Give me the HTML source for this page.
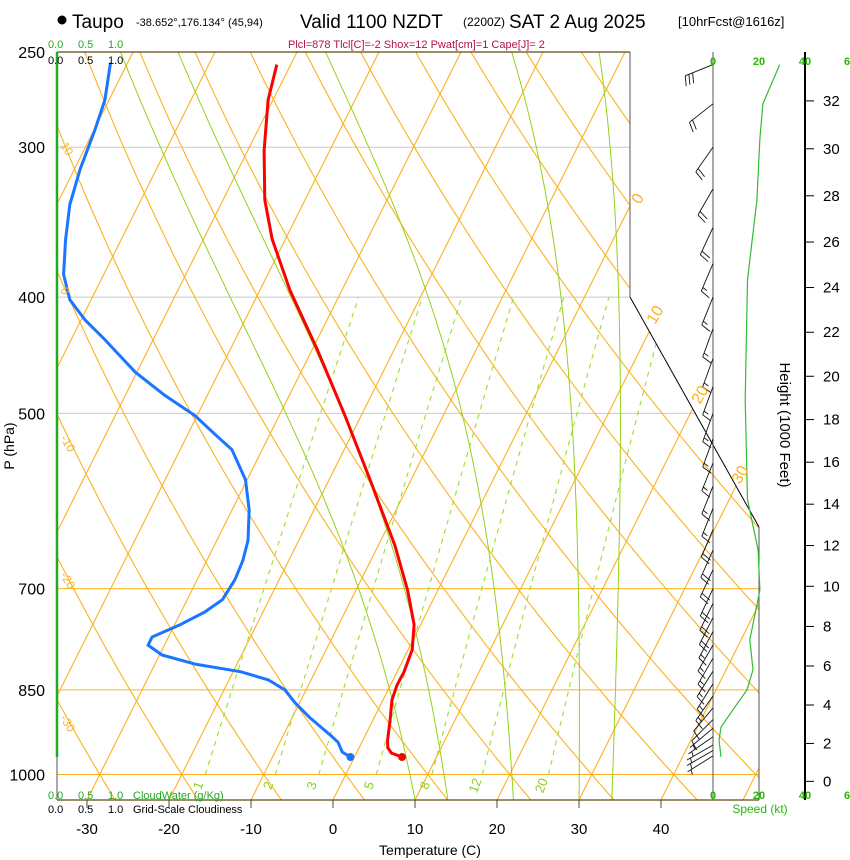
<!DOCTYPE html>
<html><head><meta charset="utf-8"><style>
html,body{margin:0;padding:0;background:#fff}
svg{display:block;font-family:"Liberation Sans",sans-serif}
</style></head><body>
<svg id="chart" width="850" height="860" viewBox="0 0 850 860" xmlns="http://www.w3.org/2000/svg">
<defs><clipPath id="plotclip"><polygon points="57,52 630,52 630,297 759,527 759,800 57,800"/></clipPath></defs>
<g id="grid" clip-path="url(#plotclip)"></g>
<g id="frame">
<line x1="57" y1="52" x2="630" y2="52" stroke="#5a4a10" stroke-width="1.2"/>
<line x1="630" y1="52" x2="630" y2="297" stroke="#555" stroke-width="1"/>
<line x1="630" y1="297" x2="759" y2="527" stroke="#000" stroke-width="1"/>
<line x1="759" y1="527" x2="759" y2="800" stroke="#555" stroke-width="1"/>
<line x1="57" y1="800" x2="759" y2="800" stroke="#5a4a10" stroke-width="1.2"/>
<line x1="57" y1="52" x2="57" y2="800" stroke="#555" stroke-width="1"/>
<line x1="713" y1="52" x2="713" y2="800" stroke="#555" stroke-width="1"/>
<line x1="805" y1="52" x2="805" y2="800" stroke="#000" stroke-width="2"/>
</g>
<line x1="57" y1="52" x2="57" y2="757" stroke="#22aa22" stroke-width="2.5"/>
<g id="series"></g>
<g id="labels" font-size="14" fill="#000"></g>
<g>
<circle cx="62" cy="20" r="4.5" fill="#000"/>
<text x="72" y="28" font-size="19">Taupo</text>
<text x="136" y="26" font-size="11">-38.652°,176.134° (45,94)</text>
<text x="300" y="28" font-size="19">Valid 1100 NZDT</text>
<text x="463" y="26" font-size="12">(2200Z)</text>
<text x="509" y="28" font-size="19">SAT 2 Aug 2025</text>
<text x="678" y="26" font-size="13">[10hrFcst@1616z]</text>
<text x="288" y="48" font-size="11" fill="#b0104c">Plcl=878 Tlcl[C]=-2 Shox=12 Pwat[cm]=1 Cape[J]= 2</text>
</g>
<script>
const tempP=[256,274,302,332,358,395,443,502,568,644,702,750,787,821,842,867,901,936,950,960,967];
const tempT=[-51.7,-50.6,-48.0,-44.9,-41.6,-36.3,-29.3,-22.0,-15.0,-8.0,-3.7,-0.8,0.5,0.85,0.8,1.1,2.1,3.0,3.5,4.3,5.8];
const dewP=[255,274,290,313,335,358,383,402,418,434,462,483,502,521,536,568,602,638,663,688,715,732,750,768,780,795,809,821,834,850,872,897,927,940,958,967];
const dewT=[-72.1,-70.5,-69.9,-69.3,-68.4,-66.8,-64.9,-62.6,-59.5,-55.9,-50.2,-45.2,-40.3,-36.6,-33.7,-30.2,-27.9,-26.2,-25.6,-25.4,-25.7,-27.1,-29.3,-32.0,-32.0,-29.7,-25.1,-19.1,-15.2,-12.6,-10.5,-7.8,-4.3,-2.9,-1.8,-0.5];
const spdP=[256,276,295,332,387,487,590,650,702,772,818,850,883,913,936,967];
const spdKt=[29,21.7,20.4,19.1,15,14,15,19.6,20.4,16,17.4,14.8,8.7,3.5,2.6,3.5];
const barbP=[256,276,300,325,350,375,400,425,450,475,500,525,550,575,600,625,650,675,700,720,740,760,780,800,820,840,860,880,900,915,930,945,955,965];
const barbDir=[248,232,215,210,205,203,202,200,200,200,200,200,202,202,202,203,204,205,205,206,207,208,210,210,212,212,215,220,225,230,235,240,240,238];
const barbKt=[29,22,20,19,18,15,14,14,14,14,14,15,15,16,17,18,20,20,20,19,18,16,16,17,17,16,14,11,8,6,4,3,3,4];
const pLevels=[250,300,400,500,700,850,1000];
const tTicks=[-30,-20,-10,0,10,20,30,40];
const hTicks=[0,2,4,6,8,10,12,14,16,18,20,22,24,26,28,30,32];
const mixW=[1,2,3,5,8,12,20];
const thetaC=[-40,-30,-20,-10,0,10,20,30,40,50,60,70,80,90,100,110,120,130,140,150,160];
const moistT=[10,14,22,30,34];

const NS='http://www.w3.org/2000/svg';
function Y(p){return 774.5-521*Math.log(1000/p);}
function X(T,p){return 333+8.2*T+0.5*(800-Y(p));}
function mk(tag,attrs,parent){const e=document.createElementNS(NS,tag);for(const k in attrs)e.setAttribute(k,attrs[k]);parent.appendChild(e);return e;}
function pts(arr){return arr.map(a=>a[0].toFixed(1)+','+a[1].toFixed(1)).join(' ');}
const grid=document.getElementById('grid'),series=document.getElementById('series'),labels=document.getElementById('labels');
const ORANGE='#fbb220',GREEN='#95d11a';
pLevels.forEach(p=>{if(p===250)return;const warm=p>=700;
 const l=mk('line',{x1:57,x2:759,y1:Y(p),y2:Y(p),stroke:warm?ORANGE:'#c9c9c9','stroke-width':1},grid);
 
 });
for(let T=-130;T<=50;T+=10){const l=mk('line',{x1:X(T,1050),y1:Y(1050),x2:X(T,240),y2:Y(240),stroke:ORANGE,'stroke-width':1.1},grid);
 
 }
thetaC.forEach(th=>{const a=[];for(let p=1060;p>=240;p-=10){const T=(th+273.15)*Math.pow(p/1000,0.2857)-273.15;a.push([X(T,p),Y(p)]);}
 const l=mk('polyline',{points:pts(a),fill:'none',stroke:ORANGE,'stroke-width':1.1},grid);
 
 });
function es(T){return 6.112*Math.exp(17.67*T/(T+243.5));}
moistT.forEach(T0=>{let T=T0+273.15,p=1050;const a=[[X(T0,p),Y(p)]];
 while(p>245){const tc=T-273.15,rs=0.622*es(tc)/(p-es(tc));const Lv=2.5e6,Rd=287,cp=1005;
  const dTdp=(Rd*T+Lv*rs)/(p*(cp+Lv*Lv*rs*0.622/(Rd*T*T)));const dp=-5;T+=dTdp*dp;p+=dp;a.push([X(T-273.15,p),Y(p)]);}
 const l=mk('polyline',{points:pts(a),fill:'none',stroke:GREEN,'stroke-width':1},grid);
 
 });
mixW.forEach(w=>{const a=[];for(let p=1000;p>=400;p-=20){const e=w*p/(622+w),L=Math.log(e/6.112),T=243.5*L/(17.67-L);a.push([X(T,p),Y(p)]);}
 const l=mk('polyline',{points:pts(a),fill:'none',stroke:'#9be02a','stroke-width':1.1,'stroke-dasharray':'5,5'},grid);
 
 
 const lx=a[0][0]-3,ly=787;
 const t=mk('text',{x:lx,y:ly,'font-size':13,fill:'#8ccf20','text-anchor':'middle',transform:`rotate(-70 ${lx} ${ly})`},labels);t.textContent=w;
 
 });
[[10,145],[0,290],[-10,438],[-20,575],[-30,718]].forEach(d=>{const t=mk('text',{x:60,y:d[1],'font-size':12,fill:ORANGE,transform:`rotate(60 60 ${d[1]})`},labels);t.textContent=d[0];
 
 });
[[0,640,205],[10,655,325],[20,700,405],[30,740,485]].forEach(d=>{const t=mk('text',{x:d[1],y:d[2],'font-size':16,fill:ORANGE,transform:`rotate(-60 ${d[1]} ${d[2]})`},labels);t.textContent=d[0];
 
 });
function line(P,V,color,w,name){const a=P.map((p,i)=>[X(V[i],p),Y(p)]);const l=mk('polyline',{points:pts(a),fill:'none',stroke:color,'stroke-width':w,'stroke-linejoin':'round'},series);
 
 return a;}
const tp=line(tempP,tempT,'#ff0000',3,'temperature-profile');
const dp=line(dewP,dewT,'#1a75ff',3,'dewpoint-profile');
const c1=mk('circle',{cx:tp[tp.length-1][0],cy:tp[tp.length-1][1],r:4,fill:'#ff0000'},series);


const c2=mk('circle',{cx:dp[dp.length-1][0],cy:dp[dp.length-1][1],r:4,fill:'#1a75ff'},series);


const sp=spdP.map((p,i)=>[713+spdKt[i]*2.3,Y(p)]);
const sl=mk('polyline',{points:pts(sp),fill:'none',stroke:'#33bb33','stroke-width':1.2},series);


barbP.forEach((p,i)=>{const d=barbDir[i]*Math.PI/180,L=30,x0=713,y0=Y(p);const sx=Math.sin(d),sy=-Math.cos(d);
 const x1=x0+L*sx,y1=y0+L*sy;let path=`M${x0},${y0.toFixed(1)}L${x1.toFixed(1)},${y1.toFixed(1)}`;
 let s=Math.round(barbKt[i]/5)*5,pos=0;const px=-sy,py=sx;
 while(s>=10){const bx=x1-sx*pos*4,by=y1-sy*pos*4;path+=`M${bx.toFixed(1)},${by.toFixed(1)}l${(px*-10+sx*3).toFixed(1)},${(py*-10+sy*3).toFixed(1)}`;s-=10;pos++;}
 if(s>=5){const bx=x1-sx*pos*4-sx*(pos?0:4),by=y1-sy*pos*4-sy*(pos?0:4);path+=`M${bx.toFixed(1)},${by.toFixed(1)}l${(px*-5+sx*1.5).toFixed(1)},${(py*-5+sy*1.5).toFixed(1)}`;}
 const b=mk('path',{d:path,fill:'none',stroke:'#111','stroke-width':0.9},series);
 
 });
pLevels.forEach(p=>{const t=mk('text',{x:45,y:Y(p)+6,'text-anchor':'end','font-size':16},labels);t.textContent=p;
 
 });
tTicks.forEach(T=>{const x=333+8.2*T;const tk=mk('line',{x1:x,x2:x,y1:800,y2:808,stroke:'#444'},labels);
 
 
 const t=mk('text',{x:x,y:834,'text-anchor':'middle','font-size':15},labels);t.textContent=T;
 
 });
hTicks.forEach(h=>{const m=h*304.8,p=1013.25*Math.pow(1-6.5e-3*m/288.15,5.256),y=Y(p);
 const tk=mk('line',{x1:805,x2:814,y1:y,y2:y,stroke:'#000'},labels);
 
 
 const t=mk('text',{x:823,y:y+5,'font-size':15},labels);t.textContent=h;
 
 });
</script>
<g font-size="11">
<text x="8" y="440" font-size="14" transform="rotate(-90 14 440)" text-anchor="middle">P (hPa)</text>
<text x="430" y="855" font-size="14" text-anchor="middle">Temperature (C)</text>
<text x="780" y="425" font-size="15" transform="rotate(90 780 425)" text-anchor="middle">Height (1000 Feet)</text>
<g fill="#22aa22"><text x="48" y="48">0.0</text><text x="78" y="48">0.5</text><text x="108" y="48">1.0</text></g>
<g fill="#000"><text x="48" y="64">0.0</text><text x="78" y="64">0.5</text><text x="108" y="64">1.0</text></g>
<g fill="#22aa22"><text x="48" y="799">0.0</text><text x="78" y="799">0.5</text><text x="108" y="799">1.0</text><text x="133" y="799">CloudWater (g/Kg)</text></g>
<g fill="#000"><text x="48" y="813">0.0</text><text x="78" y="813">0.5</text><text x="108" y="813">1.0</text><text x="133" y="813">Grid-Scale Cloudiness</text></g>
<g fill="#22bb00" font-weight="bold" text-anchor="middle"><text x="713" y="65">0</text><text x="759" y="65">20</text><text x="805" y="65">40</text><text x="847" y="65">6</text></g>
<g fill="#22bb00" font-weight="bold" text-anchor="middle"><text x="713" y="799">0</text><text x="759" y="799">20</text><text x="805" y="799">40</text><text x="847" y="799">6</text></g>
<text x="760" y="813" fill="#22bb00" font-size="12" text-anchor="middle">Speed (kt)</text>
</g>
</svg>
</body></html>
